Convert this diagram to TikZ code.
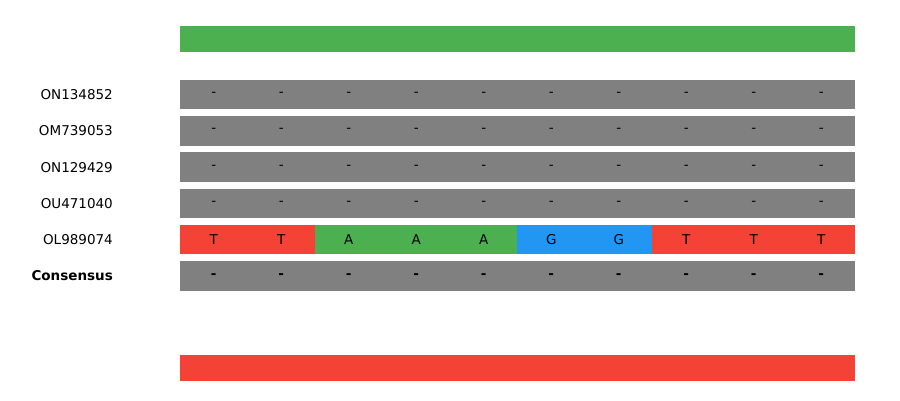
\documentclass[tikz,border=0pt]{standalone}
\usepackage{fontspec}
\setmainfont{DejaVu Sans}
\definecolor{cellgray}{HTML}{808080}
\definecolor{basered}{HTML}{F44336}
\definecolor{basegreen}{HTML}{4CAF50}
\definecolor{baseblue}{HTML}{2196F3}
\tikzset{
  cell/.style={minimum width=67.6pt, minimum height=29.5pt, inner sep=0pt,
    font=\fontsize{13.5}{16}\selectfont},
  seqname/.style={anchor=east, inner sep=0pt, font=\fontsize{13.5}{16}\selectfont},
  bar/.style={minimum width=675pt, minimum height=26pt, inner sep=0pt},
}
\begin{document}
\begin{tikzpicture}[x=1pt,y=-1pt]
    \useasboundingbox (0,0) rectangle (900,400);
    \node[bar, fill=basegreen] (topbar) at (517.5,39) {};
    \node[bar, fill=basered] (bottombar) at (517.5,367.5) {};
    % gapped sequences
    \foreach \name [count=\r] in {ON134852,OM739053,ON129429,OU471040} {
        \node[seqname] (name\r) at (113,{94.5+36.3*(\r-1)}) {\name};
        \foreach \c in {1,...,10}
            \node[cell, fill=cellgray] (cell\r-\c) at ({180+67.5*(\c-0.5)},{94.5+36.3*(\r-1)}) {-};
    }
    % the one full sequence
    \node[seqname] (name5) at (113,239.7) {OL989074};
    \foreach \b/\col [count=\c] in {T/basered,T/basered,A/basegreen,A/basegreen,A/basegreen,
                                    G/baseblue,G/baseblue,T/basered,T/basered,T/basered}
        \node[cell, fill=\col] (cell5-\c) at ({180+67.5*(\c-0.5)},239.7) {\b};
    % consensus
    \node[seqname, font=\fontsize{13.5}{16}\selectfont\bfseries] (name6) at (113,276) {Consensus};
    \foreach \c in {1,...,10}
        \node[cell, fill=cellgray, font=\fontsize{13.5}{16}\selectfont\bfseries] (cell6-\c) at ({180+67.5*(\c-0.5)},276) {-};
\end{tikzpicture}
\end{document}
